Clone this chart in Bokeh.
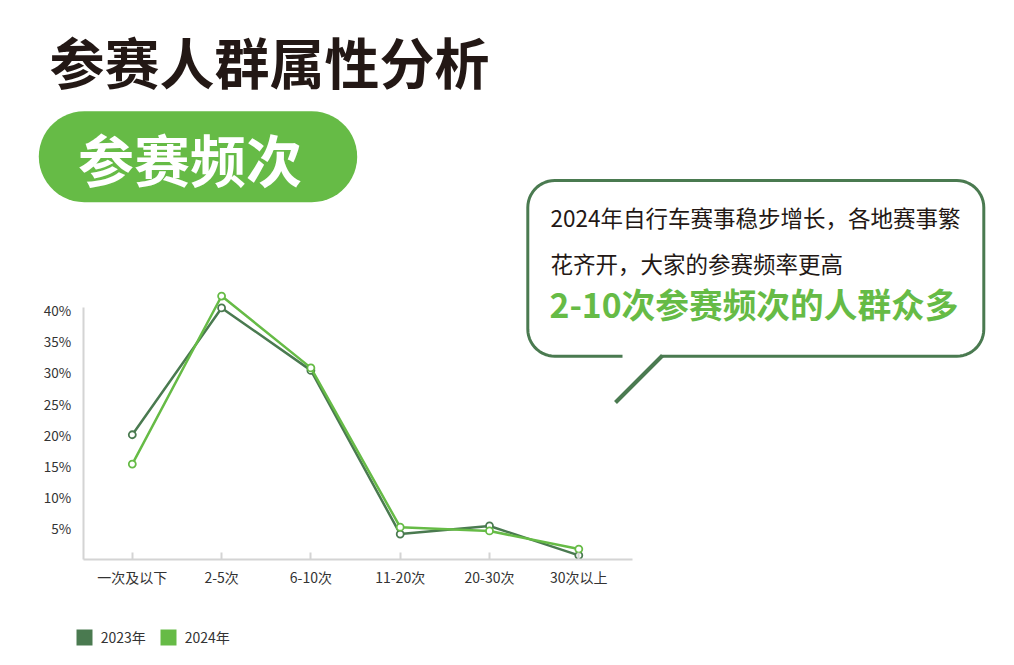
import numpy as np
from bokeh.plotting import figure
from bokeh.models import (Range1d, FixedTicker, Label, PolyAnnotation,
                          Legend, LegendItem, ColumnDataSource)
from bokeh.embed import file_html
from bokeh.resources import INLINE

# ---------------- data ----------------
categories = ["一次及以下", "2-5次", "6-10次", "11-20次", "20-30次", "30次以上"]
share_2023 = [20.0, 40.3, 30.3, 4.1, 5.4, 0.7]
share_2024 = [15.3, 42.2, 30.7, 5.2, 4.6, 1.7]
series_names = ["2023年", "2024年"]
y_ticks = [5, 10, 15, 20, 25, 30, 35, 40]
y_tick_labels = ["5%", "10%", "15%", "20%", "25%", "30%", "35%", "40%"]

title_text = "参赛人群属性分析"
section_text = "参赛频次"
note_lines = ["2024年自行车赛事稳步增长，各地赛事繁", "花齐开，大家的参赛频率更高"]
note_highlight = "2-10次参赛频次的人群众多"

# ---------------- style ----------------
FONT = "Noto Sans CJK SC"
DARK = "#4a7a50"
GREEN = "#66bb46"
TEXT = "#231815"
AXIS = "#d4d4d4"

W, H = 1014, 665
# pixel mapping of the chart (x: category slot, y: percent)
X0, XSTEP = 131.8, 89.3
Y0, YSTEP = 559.2, 6.248


def sx(px):
    return px


def sy(py):
    return H - py


def rounded_path(x0, y0, x1, y1, r, n=14):
    xs, ys = [], []
    corners = [(x1 - r, y0 + r, -90), (x1 - r, y1 - r, 0), (x0 + r, y1 - r, 90), (x0 + r, y0 + r, 180)]
    for cx, cy, a0 in corners:
        for t in np.linspace(a0, a0 + 90, n):
            xs.append(cx + r * np.cos(np.radians(t)))
            ys.append(cy + r * np.sin(np.radians(t)))
    return [sx(v) for v in xs], [sy(v) for v in ys]


slots = list(range(len(categories)))
src = ColumnDataSource(data=dict(slot=slots, cat=categories, y2023=share_2023, y2024=share_2024))

p = figure(width=W, height=H,
           x_range=Range1d(-X0 / XSTEP, (W - X0) / XSTEP),
           y_range=Range1d((Y0 - H) / YSTEP, Y0 / YSTEP),
           output_backend="svg", toolbar_location=None,
           min_border_left=0, min_border_right=0, min_border_top=0, min_border_bottom=0)
p.outline_line_color = None
p.xgrid.visible = False
p.ygrid.visible = False
p.background_fill_color = "white"
p.border_fill_color = "white"

x_left = (82.7 - X0) / XSTEP
x_right = (631.7 - X0) / XSTEP

# axes
yax = p.yaxis[0]
yax.fixed_location = x_left
yax.ticker = FixedTicker(ticks=y_ticks)
yax.major_label_overrides = {t: l for t, l in zip(y_ticks, y_tick_labels)}
yax.bounds = (0, 40.4)
yax.axis_line_color = AXIS
yax.axis_line_width = 2
yax.major_tick_line_color = None
yax.minor_tick_line_color = None
yax.major_label_standoff = 6
yax.major_label_text_font = FONT
yax.major_label_text_font_size = "13.5px"
yax.major_label_text_color = "#333333"

xax = p.xaxis[0]
xax.fixed_location = 0
xax.ticker = FixedTicker(ticks=slots)
xax.major_label_overrides = {s: c for s, c in zip(slots, categories)}
xax.bounds = (x_left, x_right)
xax.axis_line_color = AXIS
xax.axis_line_width = 2
xax.major_tick_line_color = AXIS
xax.major_tick_line_width = 2
xax.minor_tick_line_color = None
xax.major_tick_in = 7
xax.major_tick_out = 0
xax.major_label_standoff = 7
xax.major_label_text_font = FONT
xax.major_label_text_font_size = "14px"
xax.major_label_text_color = "#333333"

# series
swatches = []
for col, color in (("y2023", DARK), ("y2024", GREEN)):
    # hidden bar view of the same series, used only for the square legend swatch
    sw = p.vbar(x="slot", top=col, width=0.5, source=src, fill_color=color,
                line_color=None, visible=False)
    swatches.append(sw)
    p.line("slot", col, source=src, line_color=color, line_width=2.5)
    p.scatter("slot", col, source=src, marker="circle", size=7,
              fill_color="white", line_color=color, line_width=1.8)

legend = Legend(items=[LegendItem(label=series_names[0], renderers=[swatches[0]]),
                       LegendItem(label=series_names[1], renderers=[swatches[1]])],
                location=(sx(73.7), sy(647)), orientation="horizontal",
                glyph_width=20, glyph_height=20, padding=0, margin=0, spacing=12,
                label_standoff=7, label_text_font=FONT, label_text_font_size="14px",
                label_text_color="#333333", border_line_color=None,
                background_fill_alpha=0)
p.add_layout(legend)

# pill
pxs, pys = rounded_path(38.3, 110.7, 356.7, 201.7, 45.5)
p.add_layout(PolyAnnotation(xs=pxs, ys=pys, xs_units="screen", ys_units="screen",
                            fill_color=GREEN, fill_alpha=1, line_color=None))

# callout box
cxs, cys = rounded_path(527.3, 180, 983.3, 355.7, 27)
p.add_layout(PolyAnnotation(xs=cxs, ys=cys, xs_units="screen", ys_units="screen",
                            fill_color="white", fill_alpha=1, line_color=DARK,
                            line_alpha=1, line_width=3))
p.add_layout(PolyAnnotation(xs=[sx(622), sx(661.5), sx(661.5), sx(622)],
                            ys=[sy(352), sy(352), sy(359), sy(359)],
                            xs_units="screen", ys_units="screen",
                            fill_color="white", fill_alpha=1, line_color=None))
p.add_layout(PolyAnnotation(xs=[sx(662), sx(615)], ys=[sy(355), sy(402)],
                            xs_units="screen", ys_units="screen",
                            fill_alpha=0, line_color=DARK, line_alpha=1, line_width=4))

# texts
p.add_layout(Label(x=sx(49), y=sy(59), x_units="screen", y_units="screen",
                   text=title_text, text_font=FONT, text_font_size="55px",
                   text_font_style="bold", text_color=TEXT,
                   text_align="left", text_baseline="middle"))
p.add_layout(Label(x=sx(189.5), y=sy(157), x_units="screen", y_units="screen",
                   text=section_text, text_font=FONT, text_font_size="56px",
                   text_font_style="bold", text_color="white",
                   text_align="center", text_baseline="middle"))
for txt, yy in zip(note_lines, [216.7, 262]):
    p.add_layout(Label(x=sx(550), y=sy(yy), x_units="screen", y_units="screen",
                       text=txt, text_font=FONT, text_font_size="22.5px",
                       text_color=TEXT, text_align="left", text_baseline="middle"))
p.add_layout(Label(x=sx(549), y=sy(303), x_units="screen", y_units="screen",
                   text=note_highlight, text_font=FONT, text_font_size="33.7px",
                   text_font_style="bold", text_color=GREEN,
                   text_align="left", text_baseline="middle"))

open("out.html", "w").write(file_html(p, INLINE))
